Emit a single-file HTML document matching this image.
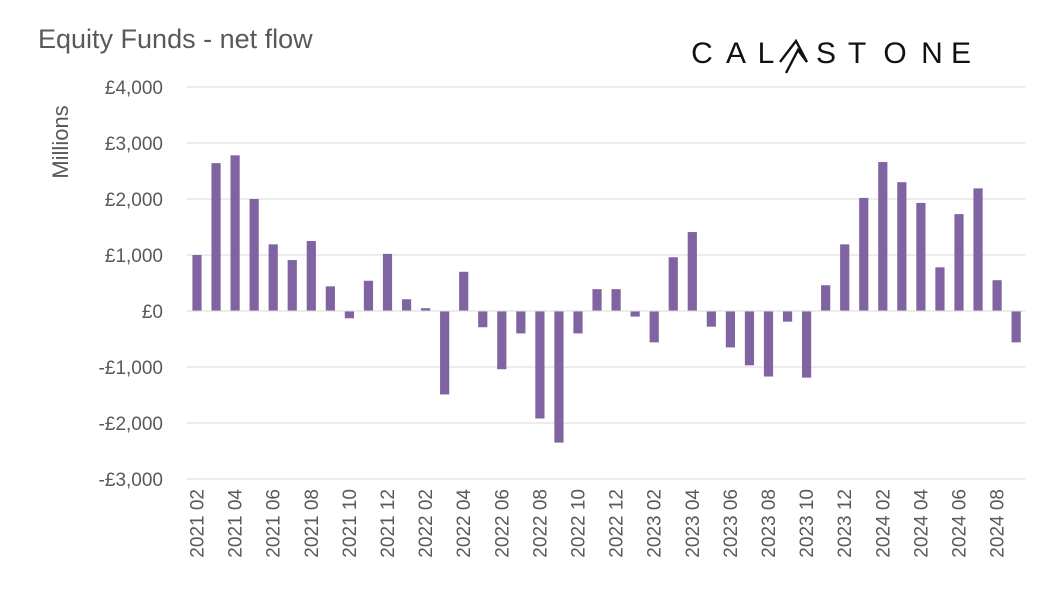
<!DOCTYPE html>
<html><head><meta charset="utf-8"><style>
html,body{margin:0;padding:0;background:#fff;}
svg{display:block;font-family:"Liberation Sans",Calibri,sans-serif;}
</style></head><body>
<svg id="c" width="1050" height="596" xmlns="http://www.w3.org/2000/svg">
<text x="38" y="48" font-size="27" fill="#595959">Equity Funds - net flow</text>
<text transform="translate(68,142) rotate(-90)" font-size="22" fill="#595959" text-anchor="middle">Millions</text>
<g font-size="30" fill="#111" font-family="Liberation Sans,sans-serif" text-anchor="middle">
<text x="702" y="63">C</text><text x="736" y="63">A</text><text x="766" y="63">L</text>
<text x="826" y="63">S</text><text x="857" y="63">T</text><text x="895" y="63">O</text><text x="932" y="63">N</text><text x="961" y="63">E</text>
</g>
<path d="M780 62 L796 41 L807 62 L798 50 L786 73" fill="none" stroke="#111" stroke-width="2.4" stroke-linejoin="miter"/>
<g id="g"></g>
</svg>
<script>
var vals=[1000,2640,2780,2000,1190,910,1250,440,-130,540,1020,210,50,-1490,700,-290,-1040,-400,-1920,-2350,-400,390,390,-100,-560,960,1410,-280,-650,-970,-1170,-190,-1190,460,1190,2020,2660,2300,1930,780,1730,2190,550,-560];
var g=document.getElementById('g'),s='';
function y(v){return 311-v*0.056;}
for(var v=4000;v>=-3000;v-=1000){
 var yy=y(v);
 if(v!=0)s+='<line x1="187" x2="1025" y1="'+yy+'" y2="'+yy+'" stroke="#d9d9d9" stroke-width="1"/>';
 var lab=v==0?'£0':(v<0?'-£':'£')+Math.abs(v).toLocaleString('en-US');
 s+='<text x="163" y="'+(yy+7)+'" font-size="19" fill="#595959" text-anchor="end">'+lab+'</text>';
}
for(var i=0;i<vals.length;i++){
 var cx=197+i*19.05,v=vals[i],t=Math.min(y(v),311),h=Math.abs(v)*0.056;
 s+='<rect x="'+(cx-4.6)+'" y="'+t+'" width="9.2" height="'+h+'" fill="#8064a2"/>';
 if(i%2==0){
  var m=i+2,yr=2021+Math.floor((m-1)/12),mo=((m-1)%12)+1;
  s+='<text transform="translate('+(cx+6.5)+',489) rotate(-90)" font-size="19" fill="#595959" text-anchor="end">'+yr+' '+(mo<10?'0':'')+mo+'</text>';
 }
}
s+='<line x1="187" x2="1025" y1="311" y2="311" stroke="#d9d9d9" stroke-width="1"/>';
g.innerHTML=s;
</script>
</body></html>
